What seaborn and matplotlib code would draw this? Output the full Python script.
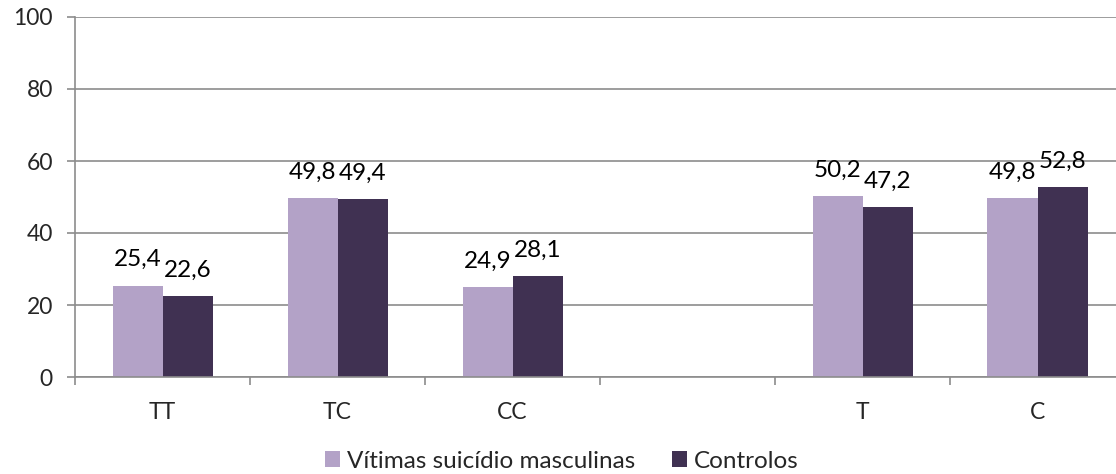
import matplotlib
matplotlib.use("Agg")
import matplotlib.pyplot as plt
import numpy as np
import pandas as pd
import seaborn as sns

# Data
categories = ["TT", "TC", "CC", "", "T", "C"]
data_cats = ["TT", "TC", "CC", "T", "C"]
vitimas = [25.4, 49.8, 24.9, 50.2, 49.8]
controlos = [22.6, 49.4, 28.1, 47.2, 52.8]
series_names = ["Vítimas suicídio masculinas", "Controlos"]
colors = ["#B3A2C7", "#403152"]

df = pd.DataFrame({
    "cat": data_cats * 2,
    "valor": vitimas + controlos,
    "serie": [series_names[0]] * len(data_cats) + [series_names[1]] * len(data_cats),
})

sns.set_style("white")
plt.rcParams["font.family"] = ["Lato", "DejaVu Sans"]

W, H = 1116, 474
fig = plt.figure(figsize=(W / 100, H / 100), dpi=100)
slot = 175
ax = fig.add_axes([75 / W, (H - 377) / H, 6 * slot / W, 360 / H])

sns.barplot(data=df, x="cat", y="valor", hue="serie", order=categories,
            hue_order=series_names, palette=colors, width=100 / slot,
            gap=0, saturation=1, ax=ax, legend=True, edgecolor="none")

fs = 16.5
fs_big = 17.5
for c in ax.containers:
    ax.bar_label(c, fmt=lambda v: f"{v:.1f}".replace(".", ","), padding=11,
                 fontsize=fs_big, color="black")

ax.set_ylim(0, 100)
ax.set_xlim(-0.5, 5.5)
ax.set_yticks(range(0, 101, 20))
ax.yaxis.grid(True, color="#8C8C8C", linewidth=1.2)
ax.set_axisbelow(True)
ax.set_xlabel("")
ax.set_ylabel("")

for s in ["top", "right"]:
    ax.spines[s].set_visible(False)
for s in ["left", "bottom"]:
    ax.spines[s].set_color("#8C8C8C")
    ax.spines[s].set_linewidth(1.2)

ax.tick_params(axis="y", length=6, width=1.2, color="#8C8C8C", labelsize=fs, pad=10, left=True)
ax.tick_params(axis="x", which="major", length=0, labelsize=fs, pad=18)
ax.set_xticks(np.arange(-0.5, 6.0, 1.0), minor=True)
ax.tick_params(axis="x", which="minor", length=6, width=1.2, color="#8C8C8C", bottom=True)

handles, labels = ax.get_legend_handles_labels()
ax.legend(handles, labels, loc="center", bbox_to_anchor=(562 / W, 1 - 461 / H),
          bbox_transform=fig.transFigure, ncol=2, frameon=False, fontsize=fs_big,
          handlelength=0.62, handleheight=0.62, handletextpad=0.3,
          columnspacing=1.5)

fig.savefig("out.png", dpi=100)
